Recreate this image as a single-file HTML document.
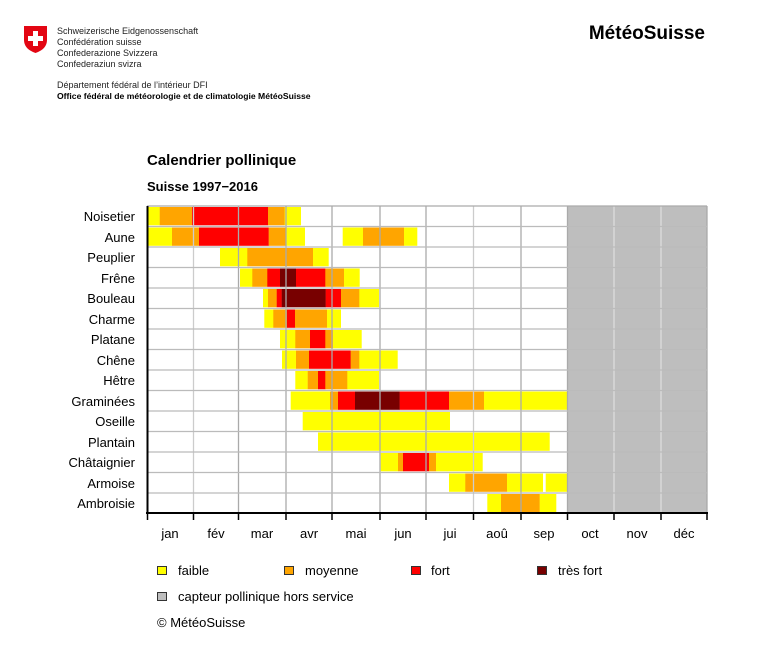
<!DOCTYPE html>
<html><head><meta charset="utf-8"><style>
body{margin:0;background:#fff;width:768px;height:647px;overflow:hidden;font-family:"Liberation Sans",sans-serif}
</style></head><body>
<svg width="768" height="647" xmlns="http://www.w3.org/2000/svg" font-family="Liberation Sans, sans-serif">
<path d="M24 26 H47 V40 Q47 49 35.5 53 Q24 49 24 40 Z" fill="#e30613"/>
<rect x="33" y="31" width="5" height="15" fill="#fff"/><rect x="28" y="36" width="15" height="5" fill="#fff"/>
<g font-size="9" fill="#222">
<text x="57" y="34">Schweizerische Eidgenossenschaft</text>
<text x="57" y="45">Confédération suisse</text>
<text x="57" y="56">Confederazione Svizzera</text>
<text x="57" y="67">Confederaziun svizra</text>
<text x="57" y="88">Département fédéral de l’intérieur DFI</text>
<text x="57" y="99" font-weight="bold" fill="#000" font-size="8.6">Office fédéral de météorologie et de climatologie MétéoSuisse</text>
</g>
<text x="705" y="39" text-anchor="end" font-size="19" font-weight="bold" fill="#000">MétéoSuisse</text>
<text x="147" y="165" font-size="15" font-weight="bold">Calendrier pollinique</text>
<text x="147" y="191" font-size="13" font-weight="bold">Suisse 1997−2016</text>
<rect x="567" y="206" width="140" height="307" fill="#bebebe"/>
<g>
<rect x="147" y="207" width="12.9" height="18.3" fill="#ffff00"/><rect x="159.7" y="207" width="32.5" height="18.3" fill="#ffa500"/><rect x="192" y="207" width="76.2" height="18.3" fill="#ff0000"/><rect x="268" y="207" width="16.9" height="18.3" fill="#ffa500"/><rect x="284.7" y="207" width="16.3" height="18.3" fill="#ffff00"/>
<rect x="147" y="227.5" width="25.2" height="18.3" fill="#ffff00"/><rect x="172" y="227.5" width="27.2" height="18.3" fill="#ffa500"/><rect x="199" y="227.5" width="69.9" height="18.3" fill="#ff0000"/><rect x="268.7" y="227.5" width="17.2" height="18.3" fill="#ffa500"/><rect x="285.7" y="227.5" width="19.3" height="18.3" fill="#ffff00"/><rect x="342.7" y="227.5" width="20.5" height="18.3" fill="#ffff00"/><rect x="363" y="227.5" width="41.2" height="18.3" fill="#ffa500"/><rect x="404" y="227.5" width="13.3" height="18.3" fill="#ffff00"/>
<rect x="220" y="248" width="27.5" height="18.3" fill="#ffff00"/><rect x="247.3" y="248" width="65.9" height="18.3" fill="#ffa500"/><rect x="313" y="248" width="15.7" height="18.3" fill="#ffff00"/>
<rect x="240" y="268.5" width="12.5" height="18.3" fill="#ffff00"/><rect x="252.3" y="268.5" width="15.2" height="18.3" fill="#ffa500"/><rect x="267.3" y="268.5" width="12.9" height="18.3" fill="#ff0000"/><rect x="280" y="268.5" width="16.2" height="18.3" fill="#780000"/><rect x="296" y="268.5" width="29.5" height="18.3" fill="#ff0000"/><rect x="325.3" y="268.5" width="18.9" height="18.3" fill="#ffa500"/><rect x="344" y="268.5" width="15.7" height="18.3" fill="#ffff00"/>
<rect x="263" y="289" width="5.2" height="18.3" fill="#ffff00"/><rect x="268" y="289" width="8.9" height="18.3" fill="#ffa500"/><rect x="276.7" y="289" width="5.2" height="18.3" fill="#ff0000"/><rect x="281.7" y="289" width="44.2" height="18.3" fill="#780000"/><rect x="325.7" y="289" width="15.5" height="18.3" fill="#ff0000"/><rect x="341" y="289" width="18.5" height="18.3" fill="#ffa500"/><rect x="359.3" y="289" width="19.7" height="18.3" fill="#ffff00"/>
<rect x="264.3" y="309.5" width="9.2" height="18.3" fill="#ffff00"/><rect x="273.3" y="309.5" width="13.9" height="18.3" fill="#ffa500"/><rect x="287" y="309.5" width="8.2" height="18.3" fill="#ff0000"/><rect x="295" y="309.5" width="32.2" height="18.3" fill="#ffa500"/><rect x="327" y="309.5" width="14" height="18.3" fill="#ffff00"/>
<rect x="280" y="330" width="15.5" height="18.3" fill="#ffff00"/><rect x="295.3" y="330" width="14.9" height="18.3" fill="#ffa500"/><rect x="310" y="330" width="15.5" height="18.3" fill="#ff0000"/><rect x="325.3" y="330" width="7.9" height="18.3" fill="#ffa500"/><rect x="333" y="330" width="28.7" height="18.3" fill="#ffff00"/>
<rect x="282" y="350.5" width="14.2" height="18.3" fill="#ffff00"/><rect x="296" y="350.5" width="13.2" height="18.3" fill="#ffa500"/><rect x="309" y="350.5" width="41.9" height="18.3" fill="#ff0000"/><rect x="350.7" y="350.5" width="8.8" height="18.3" fill="#ffa500"/><rect x="359.3" y="350.5" width="38.4" height="18.3" fill="#ffff00"/>
<rect x="295.3" y="371" width="12.6" height="18.3" fill="#ffff00"/><rect x="307.7" y="371" width="10.5" height="18.3" fill="#ffa500"/><rect x="318" y="371" width="7.5" height="18.3" fill="#ff0000"/><rect x="325.3" y="371" width="22.2" height="18.3" fill="#ffa500"/><rect x="347.3" y="371" width="31.7" height="18.3" fill="#ffff00"/>
<rect x="290.7" y="391.5" width="39.5" height="18.3" fill="#ffff00"/><rect x="330" y="391.5" width="8.2" height="18.3" fill="#ffa500"/><rect x="338" y="391.5" width="17.2" height="18.3" fill="#ff0000"/><rect x="355" y="391.5" width="44.9" height="18.3" fill="#780000"/><rect x="399.7" y="391.5" width="49.5" height="18.3" fill="#ff0000"/><rect x="449" y="391.5" width="35.2" height="18.3" fill="#ffa500"/><rect x="484" y="391.5" width="83" height="18.3" fill="#ffff00"/>
<rect x="302.7" y="412" width="147.3" height="18.3" fill="#ffff00"/>
<rect x="318" y="432.5" width="231.7" height="18.3" fill="#ffff00"/>
<rect x="380.7" y="453" width="17.5" height="18.3" fill="#ffff00"/><rect x="398" y="453" width="5.2" height="18.3" fill="#ffa500"/><rect x="403" y="453" width="26.2" height="18.3" fill="#ff0000"/><rect x="429" y="453" width="7.2" height="18.3" fill="#ffa500"/><rect x="436" y="453" width="46.7" height="18.3" fill="#ffff00"/>
<rect x="449" y="473.5" width="16.5" height="18.3" fill="#ffff00"/><rect x="465.3" y="473.5" width="41.9" height="18.3" fill="#ffa500"/><rect x="507" y="473.5" width="36" height="18.3" fill="#ffff00"/><rect x="545.7" y="473.5" width="21.3" height="18.3" fill="#ffff00"/>
<rect x="487.3" y="494" width="13.9" height="18.3" fill="#ffff00"/><rect x="501" y="494" width="38.9" height="18.3" fill="#ffa500"/><rect x="539.7" y="494" width="16.6" height="18.3" fill="#ffff00"/>
</g>
<g stroke="#aaa" stroke-width="1.3">
<line x1="193.5" y1="206" x2="193.5" y2="513" stroke="#ccc"/><line x1="238.5" y1="206" x2="238.5" y2="513"/>
<line x1="286" y1="206" x2="286" y2="513"/><line x1="332" y1="206" x2="332" y2="513"/>
<line x1="380" y1="206" x2="380" y2="513"/><line x1="426" y1="206" x2="426" y2="513"/>
<line x1="473.5" y1="206" x2="473.5" y2="513" stroke="#ccc"/><line x1="521" y1="206" x2="521" y2="513"/>
<line x1="567.5" y1="206" x2="567.5" y2="513"/><line x1="614" y1="206" x2="614" y2="513" stroke="#ddd"/>
<line x1="661" y1="206" x2="661" y2="513" stroke="#ddd"/><line x1="707" y1="206" x2="707" y2="513"/>
<line x1="147" y1="206" x2="707" y2="206"/>
</g>
<g stroke="#bbb" stroke-width="1.3">
<line x1="147" y1="226.5" x2="707" y2="226.5"/><line x1="147" y1="247" x2="707" y2="247"/><line x1="147" y1="267.5" x2="707" y2="267.5"/><line x1="147" y1="288" x2="707" y2="288"/><line x1="147" y1="308.5" x2="707" y2="308.5"/><line x1="147" y1="329" x2="707" y2="329"/><line x1="147" y1="349.5" x2="707" y2="349.5"/><line x1="147" y1="370" x2="707" y2="370"/><line x1="147" y1="390.5" x2="707" y2="390.5"/><line x1="147" y1="411" x2="707" y2="411"/><line x1="147" y1="431.5" x2="707" y2="431.5"/><line x1="147" y1="452" x2="707" y2="452"/><line x1="147" y1="472.5" x2="707" y2="472.5"/><line x1="147" y1="493" x2="707" y2="493"/>
</g>
<line x1="147.5" y1="206" x2="147.5" y2="513" stroke="#000" stroke-width="2"/>
<line x1="146" y1="513" x2="708" y2="513" stroke="#000" stroke-width="2"/>
<g stroke="#000" stroke-width="1.5">
<line x1="147.5" y1="513" x2="147.5" y2="520"/><line x1="193.5" y1="513" x2="193.5" y2="520"/><line x1="238.5" y1="513" x2="238.5" y2="520"/><line x1="286" y1="513" x2="286" y2="520"/><line x1="332" y1="513" x2="332" y2="520"/><line x1="380" y1="513" x2="380" y2="520"/><line x1="426" y1="513" x2="426" y2="520"/><line x1="473.5" y1="513" x2="473.5" y2="520"/><line x1="521" y1="513" x2="521" y2="520"/><line x1="567.5" y1="513" x2="567.5" y2="520"/><line x1="614" y1="513" x2="614" y2="520"/><line x1="661" y1="513" x2="661" y2="520"/><line x1="707" y1="513" x2="707" y2="520"/>
</g>
<g font-size="13" text-anchor="middle" fill="#000">
<text x="170" y="538">jan</text><text x="216" y="538">fév</text><text x="262" y="538">mar</text><text x="309" y="538">avr</text><text x="356" y="538">mai</text><text x="403" y="538">jun</text><text x="450" y="538">jui</text><text x="497" y="538">aoû</text><text x="544" y="538">sep</text><text x="590" y="538">oct</text><text x="637" y="538">nov</text><text x="684" y="538">déc</text>
</g>
<g font-size="13" text-anchor="end" fill="#000">
<text x="135" y="221">Noisetier</text><text x="135" y="242">Aune</text><text x="135" y="262">Peuplier</text><text x="135" y="283">Frêne</text><text x="135" y="303">Bouleau</text><text x="135" y="324">Charme</text><text x="135" y="344">Platane</text><text x="135" y="365">Chêne</text><text x="135" y="385">Hêtre</text><text x="135" y="406">Graminées</text><text x="135" y="426">Oseille</text><text x="135" y="447">Plantain</text><text x="135" y="467">Châtaignier</text><text x="135" y="488">Armoise</text><text x="135" y="508">Ambroisie</text>
</g>
<g stroke="#333" stroke-width="1">
<rect x="157.5" y="566.5" width="9" height="8" fill="#ffff00"/>
<rect x="284.5" y="566.5" width="9" height="8" fill="#ffa500"/>
<rect x="411.5" y="566.5" width="9" height="8" fill="#ff0000"/>
<rect x="537.5" y="566.5" width="9" height="8" fill="#780000"/>
<rect x="157.5" y="592.5" width="9" height="8" fill="#bebebe"/>
</g>
<g font-size="13" fill="#000">
<text x="178" y="575">faible</text><text x="305" y="575">moyenne</text><text x="431" y="575">fort</text><text x="558" y="575">très fort</text>
<text x="178" y="601">capteur pollinique hors service</text>
<text x="157" y="627">© MétéoSuisse</text>
</g>
</svg>
</body></html>
